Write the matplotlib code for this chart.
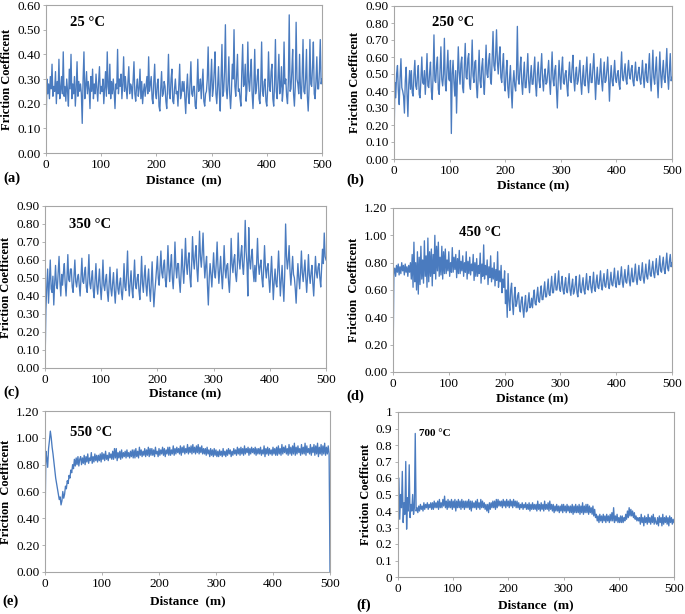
import matplotlib
matplotlib.use("Agg")
import matplotlib.pyplot as plt
import numpy as np

plt.rcParams['font.family'] = ['Liberation Serif', 'DejaVu Serif']

mu_25 = [7, 30, 24, 28, 22, 31, 26, 36, 23, 27, 25, 33, 20, 29, 24, 38, 22, 26, 31, 24,
         41, 23, 27, 21, 30, 25, 19, 34, 26, 40, 22, 28, 24, 31, 19, 26, 37, 23, 29, 25,
         28, 24, 12, 30, 41, 22, 27, 33, 24, 29, 26, 18, 31, 25, 34, 22, 28, 24, 32, 26,
         21, 29, 35, 24, 27, 25, 30, 20, 26, 33, 23, 41, 27, 24, 36, 22, 29, 24, 30, 25,
         18, 28, 26, 42, 24, 30, 27, 32, 22, 28, 39, 25, 31, 26, 22, 29, 35, 24, 28, 27,
         22, 30, 37, 24, 21, 27, 30, 23, 26, 34, 22, 29, 20, 25, 28, 23, 27, 31, 24, 39,
         25, 28, 31, 22, 20, 29, 36, 24, 22, 28, 30, 19, 17, 26, 33, 23, 24, 29, 27, 21,
         18, 27, 40, 24, 22, 30, 34, 21, 20, 26, 30, 24, 25, 19, 28, 36, 22, 24, 29, 25,
         29, 22, 16, 26, 32, 23, 20, 28, 37, 24, 23, 27, 27, 19, 18, 26, 38, 25, 26, 30,
         22, 28, 34, 21, 19, 24, 25, 30, 43, 26, 21, 29, 38, 23, 26, 33, 41, 24, 20, 27,
         35, 24, 17, 30, 44, 23, 25, 33, 52, 26, 22, 28, 39, 24, 18, 25, 36, 30, 50, 27,
         23, 31, 40, 25, 26, 22, 19, 33, 44, 27, 28, 36, 21, 26, 45, 29, 25, 32, 38, 24,
         18, 27, 42, 24, 26, 31, 34, 22, 20, 28, 45, 25, 23, 29, 30, 21, 19, 26, 41, 27,
         25, 33, 36, 22, 19, 28, 46, 25, 22, 30, 40, 24, 27, 35, 21, 26, 45, 28, 30, 23,
         20, 29, 56, 25, 26, 33, 42, 24, 19, 27, 53, 30, 28, 24, 40, 26, 22, 31, 46, 25,
         24, 30, 42, 23, 17, 26, 46, 28, 27, 35, 45, 24, 22, 29, 39, 26, 26, 33, 46, 28,
         30]

mu_250 = [7, 45, 36, 50, 55, 40, 32, 48, 59, 42, 40, 37, 27, 46, 54, 38, 25, 44, 52, 41,
          52, 39, 37, 50, 58, 43, 41, 49, 55, 38, 36, 47, 60, 45, 44, 52, 38, 48, 62, 43,
          42, 51, 57, 40, 35, 49, 73, 46, 45, 55, 60, 41, 38, 52, 66, 47, 43, 50, 71, 44,
          40, 53, 64, 47, 46, 58, 15, 50, 58, 45, 37, 52, 27, 48, 66, 51, 44, 56, 60, 42,
          39, 55, 68, 48, 47, 59, 62, 44, 41, 53, 70, 49, 45, 57, 58, 42, 36, 50, 64, 46,
          42, 54, 59, 45, 38, 52, 67, 50, 48, 58, 62, 47, 44, 60, 75, 55, 52, 61, 76, 57,
          50, 60, 66, 48, 45, 55, 62, 44, 40, 51, 58, 42, 36, 47, 55, 40, 30, 45, 52, 43,
          40, 50, 78, 47, 44, 53, 60, 45, 38, 49, 57, 42, 42, 51, 62, 46, 39, 48, 55, 44,
          44, 52, 60, 43, 37, 50, 57, 46, 42, 53, 62, 47, 40, 49, 53, 44, 45, 51, 58, 46,
          38, 50, 63, 47, 43, 52, 55, 41, 30, 46, 58, 48, 41, 53, 60, 45, 44, 50, 52, 43,
          37, 49, 57, 46, 45, 54, 61, 47, 40, 50, 54, 44, 46, 52, 58, 45, 38, 48, 55, 44,
          43, 51, 60, 46, 39, 49, 56, 45, 45, 53, 62, 48, 35, 47, 54, 44, 44, 51, 59, 46,
          40, 50, 57, 45, 46, 52, 60, 48, 34, 47, 55, 46, 43, 51, 58, 47, 45, 50, 52, 44,
          41, 52, 63, 48, 46, 51, 56, 47, 44, 52, 58, 49, 47, 53, 55, 46, 43, 50, 57, 48,
          46, 51, 54, 47, 44, 50, 58, 48, 42, 51, 56, 46, 45, 53, 62, 47, 40, 51, 64, 48,
          44, 52, 60, 46, 36, 49, 63, 50, 42, 51, 58, 47, 45, 54, 65, 49, 41, 52, 62, 46,
          48]

mu_350 = [0, 32, 45, 55, 36, 48, 60, 44, 42, 51, 35, 47, 57, 46, 44, 53, 62, 48, 40, 52,
          46, 53, 58, 47, 40, 50, 63, 49, 48, 55, 55, 45, 42, 51, 60, 48, 45, 50, 52, 46,
          40, 50, 61, 48, 47, 53, 56, 45, 42, 51, 63, 47, 44, 50, 54, 43, 39, 49, 58, 46,
          41, 48, 55, 45, 38, 47, 60, 46, 43, 49, 52, 42, 37, 46, 56, 44, 40, 47, 53, 43,
          36, 45, 55, 44, 41, 47, 50, 42, 38, 46, 58, 45, 43, 52, 65, 47, 40, 48, 54, 44,
          39, 49, 60, 46, 44, 50, 52, 43, 38, 48, 62, 47, 42, 51, 57, 46, 40, 49, 55, 44,
          37, 47, 59, 45, 34, 42, 48, 55, 62, 50, 46, 56, 65, 53, 50, 57, 60, 49, 45, 54,
          68, 55, 48, 57, 63, 50, 44, 54, 70, 56, 50, 58, 58, 48, 42, 53, 66, 55, 47, 57,
          72, 58, 52, 60, 64, 51, 45, 57, 73, 60, 55, 63, 68, 55, 48, 60, 76, 62, 56, 64,
          75, 60, 50, 57, 62, 46, 35, 50, 58, 52, 45, 55, 64, 53, 50, 58, 70, 56, 47, 55,
          62, 52, 44, 54, 68, 55, 50, 57, 58, 48, 42, 53, 72, 58, 53, 60, 63, 52, 48, 56,
          75, 60, 55, 63, 68, 57, 52, 62, 82, 65, 58, 40, 78, 60, 55, 62, 66, 54, 48, 57,
          48, 58, 72, 58, 52, 57, 60, 50, 45, 55, 68, 56, 50, 56, 58, 49, 42, 52, 62, 50,
          38, 48, 55, 47, 45, 54, 65, 52, 40, 49, 57, 46, 37, 52, 80, 62, 55, 60, 68, 54,
          46, 54, 62, 52, 50, 44, 36, 48, 58, 50, 44, 53, 65, 53, 48, 54, 60, 50, 42, 51,
          63, 52, 47, 53, 57, 47, 40, 51, 62, 53, 50, 56, 58, 50, 45, 55, 66, 58, 75, 62,
          60]

mu_450 = [0, 72, 76, 70, 78, 73, 79, 71, 77, 72, 80, 74, 78, 71, 79, 73, 77, 70, 78, 73,
          80, 68, 86, 62, 95, 66, 80, 60, 88, 57, 84, 64, 92, 68, 82, 65, 96, 70, 85, 62,
          98, 66, 88, 70, 90, 63, 86, 72, 100, 68, 92, 74, 95, 70, 84, 71, 92, 68, 88, 72,
          90, 72, 82, 74, 88, 70, 80, 73, 91, 73, 84, 75, 86, 69, 83, 72, 89, 72, 81, 74,
          85, 70, 80, 73, 88, 68, 81, 72, 84, 71, 79, 74, 86, 67, 80, 70, 83, 70, 78, 72,
          87, 65, 79, 70, 93, 68, 78, 71, 82, 64, 77, 69, 85, 66, 76, 68, 80, 63, 75, 67,
          88, 62, 74, 66, 78, 58, 68, 62, 74, 50, 60, 40, 72, 52, 45, 60, 65, 50, 42, 55,
          62, 48, 50, 56, 58, 47, 44, 52, 55, 46, 40, 50, 56, 44, 45, 52, 58, 47, 48, 54,
          47, 55, 60, 50, 49, 56, 62, 52, 51, 58, 63, 53, 53, 60, 66, 55, 55, 61, 68, 57,
          56, 63, 70, 58, 58, 65, 72, 60, 60, 66, 74, 61, 59, 65, 70, 60, 57, 64, 69, 59,
          58, 65, 72, 60, 56, 63, 68, 57, 59, 64, 70, 58, 55, 63, 71, 59, 58, 64, 69, 60,
          57, 65, 72, 61, 60, 66, 70, 62, 58, 65, 73, 61, 59, 66, 71, 62, 61, 67, 74, 63,
          60, 67, 72, 63, 62, 68, 75, 64, 61, 67, 73, 64, 63, 69, 76, 65, 62, 68, 74, 64,
          64, 70, 77, 66, 62, 69, 75, 66, 65, 71, 78, 67, 63, 70, 76, 66, 66, 72, 79, 68,
          64, 71, 78, 68, 67, 73, 80, 69, 65, 72, 79, 70, 68, 75, 82, 71, 70, 76, 81, 72,
          69, 76, 83, 73, 71, 78, 85, 74, 73, 79, 84, 75, 72, 80, 87, 76, 74, 81, 86, 77,
          80]

mu_550 = [33, 90, 85, 78, 92, 98, 105, 100, 93, 88, 82, 76, 70, 66, 62, 58, 54, 56, 50, 53,
          60, 55, 58, 64, 62, 68, 66, 72, 70, 76, 74, 80, 77, 84, 79, 85, 80, 86, 79, 84,
          86, 80, 85, 81, 87, 80, 86, 82, 88, 81, 85, 83, 89, 81, 86, 82, 88, 83, 87, 82,
          87, 83, 88, 82, 89, 84, 88, 83, 90, 84, 87, 83, 89, 85, 88, 84, 90, 84, 92, 85,
          92, 83, 89, 85, 90, 84, 91, 85, 89, 86, 90, 85, 91, 86, 89, 85, 90, 86, 91, 85,
          91, 85, 92, 86, 90, 85, 93, 87, 91, 86, 90, 87, 92, 86, 91, 87, 93, 86, 92, 87,
          92, 87, 91, 86, 93, 88, 90, 86, 92, 87, 91, 88, 93, 87, 92, 86, 91, 88, 93, 87,
          93, 87, 91, 88, 94, 87, 92, 88, 93, 89, 92, 88, 94, 87, 93, 89, 94, 88, 92, 89,
          95, 88, 93, 89, 94, 88, 95, 89, 93, 88, 94, 89, 95, 88, 93, 89, 94, 88, 92, 88,
          92, 87, 93, 88, 91, 86, 92, 87, 91, 86, 92, 87, 91, 86, 90, 86, 91, 87, 90, 86,
          92, 87, 90, 86, 91, 87, 92, 88, 91, 86, 90, 87, 92, 88, 91, 87, 93, 88, 92, 87,
          93, 88, 92, 87, 94, 88, 92, 89, 93, 87, 92, 88, 93, 89, 92, 88, 93, 87, 92, 88,
          92, 88, 93, 87, 91, 88, 94, 86, 92, 88, 93, 87, 92, 88, 91, 87, 93, 88, 92, 87,
          93, 87, 94, 88, 92, 87, 95, 88, 93, 89, 94, 88, 92, 87, 95, 88, 93, 87, 94, 88,
          96, 87, 93, 88, 94, 89, 92, 87, 95, 88, 93, 88, 96, 87, 94, 89, 92, 88, 95, 87,
          93, 89, 95, 87, 94, 88, 96, 86, 93, 88, 95, 87, 94, 88, 96, 87, 93, 88, 94, 88,
          0]

mu_700 = [25, 60, 35, 50, 42, 64, 33, 45, 38, 70, 29, 48, 40, 68, 36, 44, 40, 50, 38, 42,
          87, 40, 42, 39, 43, 40, 44, 41, 43, 40, 45, 41, 44, 42, 45, 41, 44, 42, 45, 41,
          45, 41, 46, 42, 45, 42, 46, 41, 47, 42, 45, 42, 47, 43, 49, 42, 46, 41, 47, 42,
          46, 42, 47, 41, 46, 42, 47, 40, 46, 42, 47, 42, 46, 41, 47, 42, 46, 41, 46, 42,
          46, 42, 47, 41, 46, 40, 46, 42, 45, 42, 46, 41, 47, 42, 45, 41, 47, 42, 46, 42,
          45, 41, 44, 40, 44, 39, 45, 41, 45, 42, 46, 42, 46, 41, 47, 42, 47, 43, 46, 43,
          46, 42, 47, 43, 46, 42, 47, 43, 46, 42, 47, 43, 46, 42, 47, 43, 46, 42, 46, 42,
          45, 41, 44, 42, 45, 41, 44, 42, 45, 41, 44, 41, 45, 40, 44, 41, 45, 41, 44, 41,
          44, 40, 46, 41, 44, 40, 45, 41, 44, 40, 46, 41, 44, 41, 45, 40, 46, 41, 44, 40,
          44, 39, 43, 40, 44, 40, 43, 39, 43, 40, 44, 39, 44, 40, 43, 39, 44, 40, 43, 39,
          43, 39, 44, 38, 43, 39, 44, 39, 43, 39, 44, 38, 43, 39, 45, 38, 43, 39, 44, 39,
          44, 38, 43, 39, 42, 38, 43, 37, 41, 36, 38, 34, 37, 33, 38, 34, 37, 33, 38, 34,
          37, 33, 38, 34, 37, 33, 38, 34, 39, 34, 42, 33, 37, 34, 38, 33, 36, 33, 37, 33,
          37, 33, 36, 34, 38, 35, 40, 36, 42, 37, 41, 37, 40, 36, 39, 35, 37, 34, 36, 34,
          36, 32, 38, 33, 36, 31, 37, 33, 36, 32, 38, 33, 36, 32, 37, 33, 38, 32, 36, 33,
          32, 36, 31, 37, 33, 36, 31, 38, 32, 36, 33, 37, 32, 36, 31, 37, 33, 36, 32, 35,
          33]

temps = ['25 °C', '250 °C', '350 °C', '450 °C', '550 °C', '700 °C']
letters = ['(a)', '(b)', '(c)', '(d)', '(e)', '(f)']
ymax = [0.6, 0.9, 0.9, 1.2, 1.2, 1.0]
ystep = [0.1, 0.1, 0.1, 0.2, 0.2, 0.1]
ylabels = ['Friction Coefficent', 'Friction Coefficent', 'Friction Coefficent',
           'Friction  Coefficent', 'Friction  Coefficent', 'Friction Coefficent']
xlabels = ['Distance  (m)', 'Distance (m)', 'Distance (m)',
           'Distance (m)', 'Distance  (m)', 'Distance  (m)']
series = [mu_25, mu_250, mu_350, mu_450, mu_550, mu_700]

W, H = 685, 614
# axes boxes in pixels: left, top, right, bottom
boxes = [(46, 5, 322, 153), (394, 6, 672, 159),
         (45, 206, 326, 368), (393, 208, 672, 372),
         (45, 411, 330, 572), (398, 412, 674, 577)]
temp_pos = [(70, 23), (432, 22), (69, 225), (459, 233), (70, 432), (419, 433)]
letter_pos = [(3, 178), (346, 180), (3, 392), (346, 396), (2, 601), (356, 605)]
xlab_y = [180, 185, 393, 398, 601, 605]

line_color = '#4a7bbf'
grey = '#a6a6a6'

fig = plt.figure(figsize=(W / 100, H / 100), dpi=100)

for i, vals in enumerate(series):
    mu = np.array(vals) / 100
    l, t, r, b = boxes[i]
    ax = fig.add_axes([l / W, 1 - b / H, (r - l) / W, (b - t) / H])
    dist = np.linspace(0, 500, len(mu))
    ax.plot(dist, mu, color=line_color, lw=0.95)
    ax.set_xlim(0, 500)
    ax.set_ylim(0, ymax[i])
    ax.set_xticks(range(0, 501, 100))
    yt = np.arange(0, ymax[i] + 1e-9, ystep[i])
    ax.set_yticks(yt)
    if i == 5:
        ax.set_yticklabels(['%g' % v for v in yt])
    else:
        ax.set_yticklabels(['%.2f' % v for v in yt])
    for s in ax.spines.values():
        s.set_color(grey)
        s.set_linewidth(0.8)
    ax.tick_params(direction='out', length=2.5, width=0.6, color=grey,
                   labelsize=9.5, pad=1.5)
    ax.set_ylabel(ylabels[i], fontsize=9, fontweight='bold', labelpad=3)

    cx = (l + r) / 2
    fig.text(cx / W, 1 - xlab_y[i] / H, xlabels[i], ha='center', va='center',
             fontsize=9.5, fontweight='bold')
    tx, ty = temp_pos[i]
    fig.text(tx / W, 1 - ty / H, temps[i], ha='left', va='center',
             fontsize=8 if i == 5 else 10.5, fontweight='bold')
    lx, ly = letter_pos[i]
    fig.text(lx / W, 1 - ly / H, letters[i], ha='left', va='center',
             fontsize=10.5, fontweight='bold')

fig.savefig('out.png', dpi=100)
